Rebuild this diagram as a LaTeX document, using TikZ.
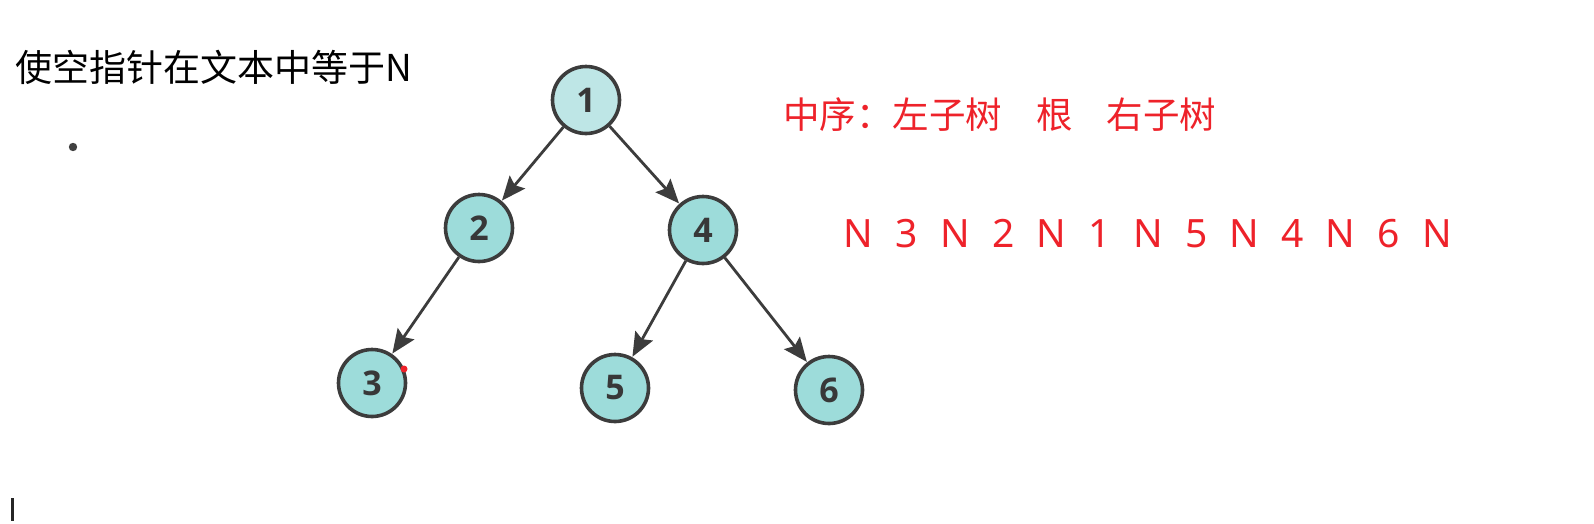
\documentclass[tikz,border=0pt]{standalone}
\usepackage{fontspec}
\setmainfont{Noto Sans}
\newfontfamily\cjkfont{Noto Sans CJK SC}
\newfontfamily\numfont{Open Sans}
\usetikzlibrary{arrows.meta}
\definecolor{redtxt}{RGB}{238,34,42}
\definecolor{nodefill}{RGB}{157,220,218}
\definecolor{rootfill}{RGB}{190,230,230}
\definecolor{edgecol}{RGB}{60,60,60}
\newcommand{\seqc}[1]{\makebox[48.2pt][c]{#1}}
\begin{document}
\begin{tikzpicture}[x=1pt,y=-1pt,
  treenode/.style={circle,draw=edgecol,line width=3.6pt,fill=nodefill,minimum size=67pt,inner sep=0pt,
    font=\numfont\bfseries\fontsize{34}{34}\selectfont,text=black!78},
  treeedge/.style={draw=edgecol,line width=2.8pt,-{Stealth[length=24pt,width=20pt,inset=4pt]},shorten >=0.5pt}]
\useasboundingbox[fill=white] (0,0) rectangle (1594,523);
% tree nodes
\node[treenode,fill=rootfill] (n1) at (586,100) {1};
\node[treenode] (n2) at (479,228) {2};
\node[treenode] (n4) at (703,230) {4};
\node[treenode] (n3) at (372,383) {3};
\node[treenode] (n5) at (615,388) {5};
\node[treenode] (n6) at (829,390) {6};
% edges
\draw[treeedge] (n1) -- (n2);
\draw[treeedge] (n1) -- (n4);
\draw[treeedge] (n2) -- (n3);
\draw[treeedge] (n4) -- (n5);
\draw[treeedge] (n4) -- (n6);
% red dot on node 3
\fill[redtxt] (404,369) circle (3.5pt);
% texts
\node[anchor=west,inner sep=0pt,font=\cjkfont\fontsize{37}{37}\selectfont] (title) at (15,67) {使空指针在文本中等于N};
\fill[black!75] (73,147) circle (4.2pt);
\node[anchor=west,inner sep=0pt,text=redtxt,font=\cjkfont\fontsize{36.5}{36.5}\selectfont] (rule) at (783,115)
  {中序：左子树\hspace{34pt}根\hspace{34pt}右子树};
\node[anchor=base,inner sep=0pt,text=redtxt,font=\fontsize{39}{39}\selectfont] (seq) at (1148,247)
  {\seqc{N}\seqc{3}\seqc{N}\seqc{2}\seqc{N}\seqc{1}\seqc{N}\seqc{5}\seqc{N}\seqc{4}\seqc{N}\seqc{6}\seqc{N}};
% text cursor
\fill[black!85] (11,498) rectangle (13.5,521);
\end{tikzpicture}
\end{document}
